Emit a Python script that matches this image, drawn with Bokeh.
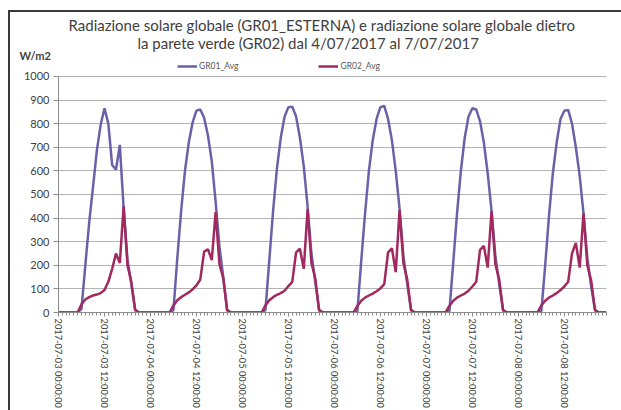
import math
from bokeh.plotting import figure
from bokeh.models import (Range1d, FixedTicker, Title, Legend, LegendItem)
from bokeh.embed import file_html
from bokeh.resources import INLINE

# ---- data (hourly averages, W/m2) ----
gr01_d0 = [0, 0, 0, 0, 0, 0, 15, 200, 380, 530, 685, 795, 865, 800, 625, 605, 710, 440, 225, 120, 10, 0, 0, 0]
gr01_d1 = [0, 0, 0, 0, 0, 0, 10, 230, 430, 600, 720, 805, 855, 860, 825, 750, 640, 470, 280, 150, 10, 0, 0, 0]
gr01_d2 = [0, 0, 0, 0, 0, 0, 10, 220, 430, 610, 740, 830, 870, 872, 830, 740, 620, 450, 250, 130, 10, 0, 0, 0]
gr01_d3 = [0, 0, 0, 0, 0, 0, 5, 220, 420, 600, 730, 820, 870, 875, 820, 730, 600, 440, 240, 120, 10, 0, 0, 0]
gr01_d4 = [0, 0, 0, 0, 0, 0, 5, 210, 420, 600, 740, 830, 865, 860, 810, 720, 590, 430, 240, 120, 10, 0, 0, 0]
gr01_d5 = [0, 0, 0, 0, 0, 0, 5, 200, 410, 590, 720, 820, 855, 858, 800, 700, 580, 420, 230, 110, 10, 0, 0, 0]

gr02_d0 = [0, 0, 0, 0, 0, 0, 35, 55, 65, 72, 76, 82, 95, 130, 185, 250, 210, 450, 200, 130, 12, 0, 0, 0]
gr02_d1 = [0, 0, 0, 0, 0, 0, 30, 52, 65, 75, 85, 98, 115, 140, 258, 268, 222, 425, 205, 145, 10, 0, 0, 0]
gr02_d2 = [0, 0, 0, 0, 0, 0, 30, 52, 65, 75, 82, 92, 112, 130, 255, 270, 185, 437, 210, 145, 10, 0, 0, 0]
gr02_d3 = [0, 0, 0, 0, 0, 0, 28, 50, 63, 72, 80, 90, 102, 120, 255, 272, 171, 434, 210, 140, 10, 0, 0, 0]
gr02_d4 = [0, 0, 0, 0, 0, 0, 28, 50, 63, 72, 80, 92, 110, 130, 265, 282, 190, 430, 205, 140, 10, 0, 0, 0]
gr02_d5 = [0, 0, 0, 0, 0, 0, 30, 50, 63, 72, 82, 95, 110, 130, 250, 295, 190, 420, 200, 135, 10, 0, 0, 0]

tick_hours = [0, 12, 24, 36, 48, 60, 72, 84, 96, 108, 120, 132]
tick_labels = ["2017-07-03 00:00:00", "2017-07-03 12:00:00",
               "2017-07-04 00:00:00", "2017-07-04 12:00:00",
               "2017-07-05 00:00:00", "2017-07-05 12:00:00",
               "2017-07-06 00:00:00", "2017-07-06 12:00:00",
               "2017-07-07 00:00:00", "2017-07-07 12:00:00",
               "2017-07-08 00:00:00", "2017-07-08 12:00:00"]
y_ticks = [0, 100, 200, 300, 400, 500, 600, 700, 800, 900, 1000]

title_line1 = "Radiazione solare globale (GR01_ESTERNA) e radiazione solare globale dietro"
title_line2 = "la parete verde (GR02) dal 4/07/2017 al 7/07/2017"
unit_label = "W/m2"

gr01 = gr01_d0 + gr01_d1 + gr01_d2 + gr01_d3 + gr01_d4 + gr01_d5
gr02 = gr02_d0 + gr02_d1 + gr02_d2 + gr02_d3 + gr02_d4 + gr02_d5
hours = list(range(len(gr01)))

FONT = "Lato"
TXT = "#404040"
BLUE = "#6a62a8"
MAG = "#a0295e"
FRAME = "#3c3c3c"

# extra head-room above 1000 keeps the legend inside the plot area
p = figure(width=621, height=410, output_backend="svg", toolbar_location=None,
           x_range=Range1d(0, len(hours) - 1), y_range=Range1d(0, 1076),
           min_border_left=58, min_border_right=15, min_border_top=58,
           min_border_bottom=96)
p.outline_line_color = None
p.background_fill_color = "white"
p.border_fill_alpha = 0
p.styles = {
    "background": (f"linear-gradient({FRAME}, {FRAME}) 8px 10px / 2px 400px no-repeat, "
                   f"linear-gradient({FRAME}, {FRAME}) 8px 10px / 613px 2px no-repeat, white"),
}

r1 = p.line(hours, gr01, line_color=BLUE, line_width=2.5)
r2 = p.line(hours, gr02, line_color=MAG, line_width=2.5)

# grid
p.xgrid.visible = False
p.ygrid.ticker = FixedTicker(ticks=y_ticks)
p.ygrid.grid_line_color = "#b4b4b4"
p.ygrid.grid_line_width = 1

# y axis
p.yaxis.ticker = FixedTicker(ticks=y_ticks)
p.yaxis.bounds = (0, 1000)
p.yaxis.axis_line_color = "#8c8c8c"
p.yaxis.major_tick_line_color = "#8c8c8c"
p.yaxis.major_tick_out = 5
p.yaxis.major_tick_in = 0
p.yaxis.minor_tick_line_color = None
p.yaxis.major_label_text_font = FONT
p.yaxis.major_label_text_font_size = "11px"
p.yaxis.major_label_text_color = TXT
p.yaxis.major_label_standoff = 4

# x axis
p.xaxis.ticker = FixedTicker(ticks=tick_hours, minor_ticks=hours)
p.xaxis.major_label_overrides = {h: lab for h, lab in zip(tick_hours, tick_labels)}
p.xaxis.major_label_orientation = -math.pi / 2
p.xaxis.axis_line_color = "#8c8c8c"
p.xaxis.major_tick_line_color = "#8c8c8c"
p.xaxis.minor_tick_line_color = "#8c8c8c"
p.xaxis.major_tick_out = 4
p.xaxis.major_tick_in = 0
p.xaxis.minor_tick_out = 3
p.xaxis.minor_tick_in = 0
p.xaxis.major_label_text_font = FONT
p.xaxis.major_label_text_font_size = "9.3px"
p.xaxis.major_label_text_color = TXT
p.xaxis.major_label_standoff = 2

# legend (top strip of the plot area, above the 1000 line)
legend = Legend(items=[LegendItem(label="GR01_Avg", renderers=[r1]),
                       LegendItem(label="GR02_Avg", renderers=[r2])],
                orientation="horizontal", location=(119, 241),
                spacing=80, padding=0, margin=0,
                glyph_width=20, glyph_height=10, label_height=10,
                label_standoff=2, border_line_color=None,
                background_fill_alpha=0,
                label_text_font=FONT, label_text_font_size="8.5px",
                label_text_color="#595959")
p.add_layout(legend, "center")

# header rows (first added sits closest to the plot area)
p.add_layout(Title(text=unit_label, align="left", offset=-39, standoff=-7,
                   text_font=FONT, text_font_size="11px",
                   text_font_style="bold", text_color=TXT), "above")
p.add_layout(Title(text=title_line2, align="left", offset=79, standoff=-2,
                   text_font=FONT, text_font_size="15px",
                   text_font_style="normal", text_color=TXT), "above")
p.add_layout(Title(text=title_line1, align="left", offset=10, standoff=-2,
                   text_font=FONT, text_font_size="15px",
                   text_font_style="normal", text_color=TXT), "above")

open("out.html", "w").write(file_html(p, INLINE))
